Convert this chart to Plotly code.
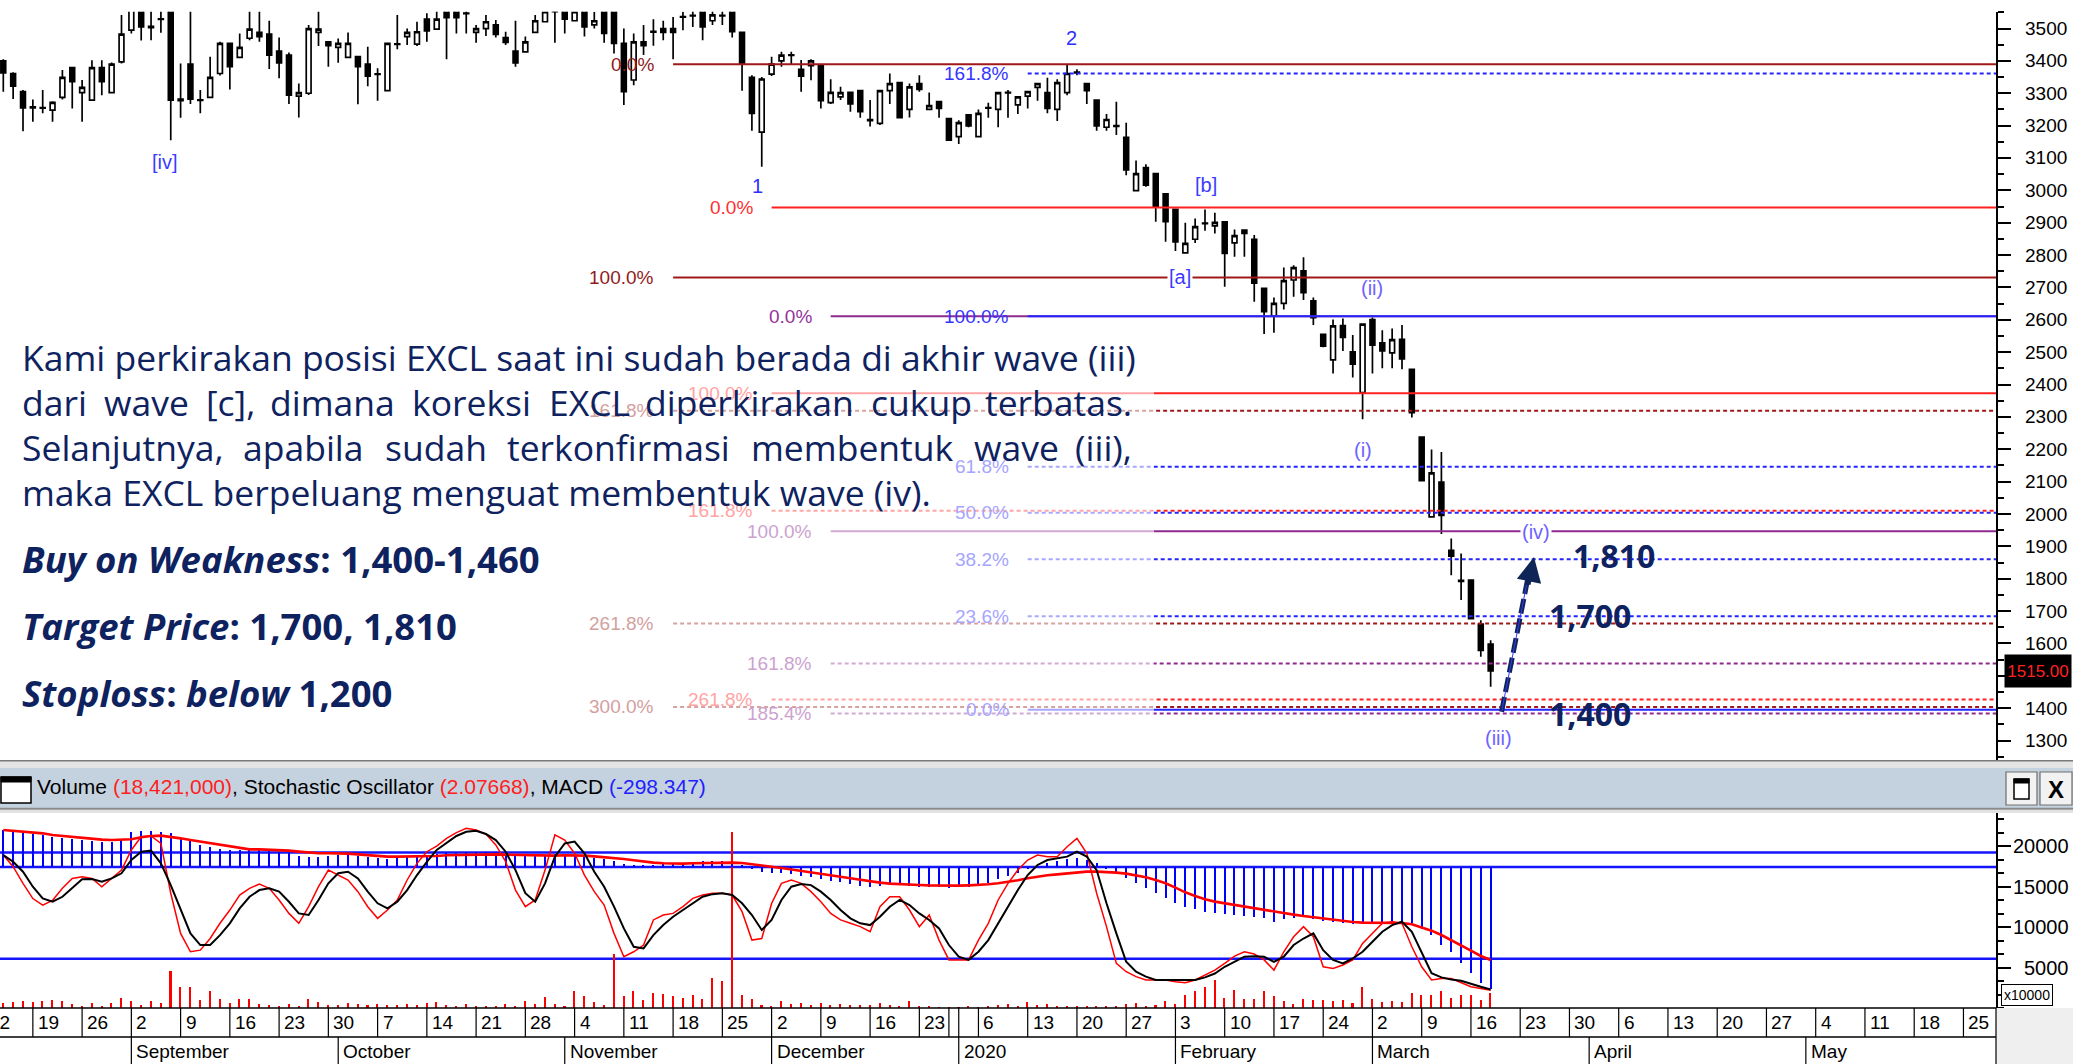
import pandas as pd
import plotly.graph_objects as go

W, H = 2073, 1064
NARROW = "Liberation Sans, Arial, sans-serif"
SANS = "Open Sans, Noto Sans, sans-serif"
NAVY = "#0e2260"

def P(v):
    return v / W

def Q(v):
    return 1 - v / H

# ---------------- data ----------------
first_day = "2019-08-14"
holidays = ["2019-12-24", "2019-12-25", "2019-12-31", "2020-01-01"]

opens = [3400, 3361, 3305, 3258, 3254, 3248, 3287, 3379, 3302, 3279,
         3379, 3302, 3397, 3495, 3580, 3503, 3530, 3600, 3282, 3390,
         3278, 3287, 3361, 3454, 3411, 3470, 3488, 3483, 3430, 3418,
         3291, 3300, 3488, 3459, 3442, 3411, 3413, 3390, 3360, 3308,
         3451, 3475, 3452, 3529, 3498, 3560, 3565, 3548, 3488, 3500,
         3511, 3472, 3430, 3428, 3488, 3521, 3570, 3570, 3524, 3560,
         3511, 3565, 3580, 3454, 3341, 3459, 3491, 3500, 3500, 3537,
         3541, 3565, 3524, 3541, 3570, 3488, 3349, 3180, 3359, 3400,
         3417, 3374, 3385, 3387, 3271, 3289, 3303, 3308, 3219, 3207,
         3308, 3333, 3250, 3330, 3250, 3274, 3222, 3166, 3233, 3166,
         3256, 3250, 3303, 3264, 3291, 3318, 3302, 3250, 3302, 3365,
         3330, 3279, 3195, 3200, 3164, 2999, 3070, 3052, 2989, 2941,
         2807, 2849, 2899, 2890, 2903, 2838, 2877, 2849, 2697, 2612,
         2651, 2723, 2751, 2659, 2555, 2476, 2582, 2501, 2375, 2601,
         2529, 2498, 2540, 2447, 2238, 1991, 2099, 1888, 1795, 1796,
         1660, 1598]
highs = [3405, 3365, 3310, 3281, 3310, 3275, 3372, 3382, 3341, 3402,
         3402, 3395, 3542, 3600, 3600, 3565, 3554, 3610, 3392, 3560,
         3310, 3413, 3459, 3456, 3485, 3556, 3556, 3524, 3472, 3426,
         3330, 3511, 3556, 3461, 3469, 3488, 3416, 3444, 3377, 3456,
         3542, 3500, 3521, 3547, 3556, 3580, 3580, 3556, 3511, 3542,
         3526, 3490, 3524, 3475, 3542, 3560, 3580, 3580, 3560, 3570,
         3552, 3575, 3590, 3500, 3485, 3511, 3529, 3524, 3536, 3552,
         3565, 3575, 3556, 3560, 3580, 3490, 3356, 3350, 3413, 3428,
         3428, 3403, 3405, 3390, 3343, 3320, 3305, 3310, 3279, 3310,
         3361, 3335, 3330, 3356, 3302, 3276, 3224, 3217, 3235, 3250,
         3271, 3304, 3310, 3291, 3307, 3332, 3348, 3343, 3387, 3374,
         3332, 3281, 3236, 3274, 3209, 3092, 3081, 3054, 2991, 2943,
         2900, 2913, 2941, 2931, 2905, 2879, 2877, 2862, 2699, 2669,
         2762, 2769, 2793, 2669, 2557, 2601, 2604, 2553, 2589, 2607,
         2568, 2573, 2584, 2449, 2240, 2199, 2192, 1924, 1878, 1798,
         1672, 1610]
lows = [3305, 3282, 3183, 3212, 3238, 3212, 3281, 3253, 3212, 3277,
        3294, 3300, 3392, 3485, 3463, 3464, 3487, 3155, 3224, 3267,
        3238, 3285, 3355, 3312, 3409, 3464, 3459, 3375, 3346, 3267,
        3225, 3295, 3446, 3382, 3394, 3409, 3266, 3322, 3277, 3306,
        3436, 3449, 3446, 3459, 3496, 3405, 3485, 3485, 3456, 3477,
        3472, 3449, 3382, 3426, 3486, 3519, 3456, 3485, 3522, 3475,
        3500, 3456, 3423, 3264, 3325, 3418, 3447, 3464, 3405, 3495,
        3505, 3464, 3511, 3511, 3472, 3308, 3184, 3073, 3353, 3382,
        3387, 3305, 3340, 3253, 3267, 3279, 3243, 3224, 3197, 3202,
        3267, 3223, 3225, 3305, 3248, 3224, 3153, 3143, 3195, 3164,
        3224, 3195, 3224, 3236, 3253, 3277, 3238, 3214, 3294, 3356,
        3267, 3184, 3184, 3171, 3047, 2997, 3011, 2903, 2841, 2813,
        2805, 2837, 2875, 2867, 2702, 2795, 2795, 2656, 2556, 2560,
        2632, 2671, 2661, 2584, 2515, 2434, 2504, 2422, 2293, 2434,
        2450, 2450, 2447, 2298, 2101, 1989, 1938, 1811, 1734, 1675,
        1559, 1466]
closes = [3363, 3322, 3255, 3255, 3256, 3272, 3349, 3336, 3318, 3379,
          3336, 3390, 3483, 3570, 3505, 3507, 3528, 3279, 3277, 3282,
          3280, 3349, 3454, 3382, 3442, 3498, 3475, 3418, 3394, 3294,
          3302, 3500, 3498, 3447, 3454, 3454, 3382, 3353, 3358, 3454,
          3453, 3488, 3490, 3493, 3529, 3534, 3534, 3546, 3500, 3521,
          3482, 3457, 3394, 3459, 3524, 3552, 3552, 3529, 3552, 3505,
          3524, 3485, 3454, 3305, 3459, 3447, 3489, 3488, 3488, 3535,
          3539, 3505, 3542, 3539, 3490, 3392, 3238, 3344, 3390, 3418,
          3419, 3353, 3400, 3277, 3303, 3302, 3267, 3243, 3215, 3308,
          3330, 3225, 3320, 3312, 3262, 3253, 3155, 3209, 3199, 3238,
          3254, 3302, 3301, 3289, 3305, 3330, 3253, 3333, 3361, 3363,
          3308, 3199, 3219, 3198, 3063, 3052, 3016, 2949, 2903, 2841,
          2836, 2888, 2897, 2901, 2805, 2860, 2867, 2713, 2625, 2651,
          2721, 2761, 2684, 2607, 2519, 2581, 2546, 2463, 2587, 2522,
          2504, 2539, 2479, 2313, 2103, 2127, 1996, 1870, 1792, 1677,
          1579, 1515]

volume_x10000 = [618, 742, 906, 741, 906, 1030, 906, 494, 206, 618,
                 206, 618, 1236, 906, 412, 824, 618, 4614, 2554, 2554,
                 1030, 2142, 1154, 618, 1154, 1154, 494, 412, 206, 494,
                 206, 1154, 742, 412, 412, 618, 494, 412, 494, 412,
                 412, 494, 412, 618, 742, 412, 206, 494, 206, 206,
                 206, 494, 206, 906, 494, 1318, 494, 206, 2142, 1442,
                 742, 330, 6674, 1442, 2142, 1030, 1854, 1730, 1442, 1236,
                 1648, 1154, 3708, 3296, 21700, 1648, 1154, 412, 206, 824,
                 494, 618, 412, 618, 412, 494, 412, 412, 412, 618,
                 412, 206, 824, 206, 206, 82, 82, 82, 206, 82,
                 206, 412, 494, 206, 742, 412, 494, 206, 206, 206,
                 206, 206, 206, 206, 494, 618, 206, 330, 906, 494,
                 1648, 2142, 2554, 3502, 1236, 2266, 1154, 1154, 2142, 1442,
                 824, 494, 1154, 1030, 1030, 906, 1030, 618, 2554, 1154,
                 742, 906, 742, 1854, 1648, 1566, 2142, 1236, 1648, 1648,
                 1030, 1842.1]
stoch_k = [78.6, 72.0, 62.6, 54.0, 50.3, 53.0, 59.8, 65.4, 66.3, 65.4,
           60.7, 65.4, 70.1, 81.5, 89.0, 89.4, 85.2, 57.0, 34.3, 23.9,
           24.8, 31.4, 40.0, 47.5, 56.0, 59.8, 62.2, 59.8, 53.2, 45.6,
           40.0, 49.4, 60.7, 70.1, 67.3, 64.5, 57.9, 49.4, 42.8, 47.5,
           53.2, 64.5, 73.9, 80.5, 83.7, 88.0, 91.3, 93.7, 92.8, 90.5,
           84.3, 74.9, 58.8, 49.4, 53.2, 70.1, 90.0, 87.1, 79.6, 67.3,
           57.9, 50.3, 34.3, 21.1, 23.9, 27.7, 41.9, 44.7, 45.6, 49.4,
           54.1, 56.0, 57.0, 57.0, 56.0, 46.6, 30.5, 31.4, 51.2, 62.6,
           64.5, 62.6, 57.9, 52.2, 45.6, 41.9, 40.0, 38.1, 35.2, 49.4,
           55.0, 55.0, 47.5, 38.1, 44.7, 30.5, 19.3, 19.3, 19.3, 30.5,
           40.0, 53.2, 62.6, 70.1, 75.8, 78.6, 77.7, 77.7, 83.3, 88.0,
           79.6, 57.0, 38.1, 17.3, 12.6, 9.8, 7.9, 7.9, 7.9, 6.9,
           6.4, 7.9, 10.7, 13.5, 17.3, 21.4, 23.9, 22.6, 19.3, 13.5,
           23.9, 32.4, 38.1, 32.4, 15.4, 14.5, 16.4, 19.3, 28.6, 34.3,
           40.0, 40.9, 40.0, 26.7, 15.4, 7.9, 8.8, 8.8, 6.4, 4.1,
           3.1, 2.07668]
stoch_d = [78.6, 74.8, 69.2, 60.7, 54.1, 52.2, 55.0, 59.8, 64.9, 65.0,
           63.5, 65.4, 68.3, 75.8, 80.5, 81.1, 73.9, 61.6, 47.5, 34.3,
           27.7, 27.7, 33.3, 40.0, 48.4, 55.0, 58.8, 59.8, 57.9, 52.2,
           45.6, 44.7, 53.2, 62.6, 68.3, 69.2, 65.4, 57.9, 51.3, 48.4,
           52.2, 58.8, 67.3, 74.8, 81.5, 85.6, 89.4, 91.8, 92.4, 90.5,
           87.1, 80.5, 70.1, 57.0, 52.2, 62.6, 77.7, 85.2, 86.2, 79.6,
           69.2, 60.7, 49.4, 37.1, 26.7, 25.8, 33.3, 39.0, 43.7, 47.5,
           51.3, 55.0, 56.5, 57.0, 56.0, 51.3, 44.7, 36.2, 41.9, 53.2,
           60.7, 62.2, 61.6, 57.9, 53.2, 47.5, 42.8, 40.0, 39.0, 43.7,
           49.4, 53.2, 50.3, 45.6, 41.9, 37.1, 27.7, 21.1, 19.3, 23.9,
           30.5, 40.0, 49.4, 58.8, 67.3, 73.0, 75.8, 76.7, 77.7, 80.5,
           77.7, 70.1, 51.3, 34.3, 18.2, 12.6, 9.8, 7.9, 7.9, 7.9,
           7.9, 7.9, 9.4, 11.6, 15.4, 18.2, 21.1, 21.4, 21.1, 18.2,
           21.1, 27.7, 31.4, 34.3, 24.8, 19.3, 17.3, 20.1, 23.9, 29.6,
           35.2, 39.0, 40.9, 35.2, 23.1, 11.8, 9.4, 8.2, 7.5, 5.6,
           4.1, 2.6]
macd = [90.3, 86.2, 83.8, 80.5, 78.1, 74.0, 69.9, 67.5, 65.9, 63.4,
        61.8, 61.8, 65.9, 86.2, 87.8, 87.8, 86.2, 82.1, 69.9, 65.9,
        53.7, 48.0, 43.1, 41.5, 41.5, 41.5, 41.5, 39.9, 37.4, 33.4,
        26.9, 25.2, 25.2, 26.9, 29.3, 29.3, 26.9, 23.6, 21.2, 19.5,
        21.2, 23.6, 26.9, 29.3, 30.9, 33.4, 35.0, 36.6, 37.4, 37.4,
        36.6, 35.0, 30.9, 26.9, 26.9, 29.3, 31.7, 31.7, 29.3, 25.2,
        21.2, 18.7, 14.7, 7.3, 2.5, 2.5, 4.1, 7.3, 8.9, 10.6,
        13.0, 14.7, 15.5, 15.5, 13.0, 4.9, -5.7, -11.4, -13.8, -15.4,
        -17.9, -21.1, -25.2, -29.2, -33.3, -37.4, -41.4, -45.5, -47.9, -46.3,
        -44.7, -44.7, -46.3, -47.9, -47.9, -49.6, -50.4, -49.6, -47.9, -43.9,
        -38.2, -30.1, -21.9, -13.8, -5.7, 2.5, 10.6, 15.5, 18.7, 21.2,
        17.0, 9.0, -3.0, -15.0, -28.0, -40.0, -52.0, -64.0, -76.0, -89.0,
        -97.0, -103.0, -109.0, -111.0, -115.0, -117.0, -120.0, -121.0, -125.0, -133.0,
        -128.0, -124.0, -123.0, -128.0, -131.0, -135.0, -137.0, -139.0, -139.0, -137.0,
        -136.0, -133.0, -133.0, -137.0, -150.0, -166.0, -190.0, -207.0, -235.0, -259.0,
        -282.0, -298.347]
macd_signal = [90.3, 88.6, 87.0, 85.4, 82.1, 78.1, 75.6, 72.4, 69.9, 68.3,
               66.7, 65.9, 65.9, 67.5, 72.4, 75.6, 76.4, 74.0, 69.9, 65.9,
               61.8, 57.8, 53.7, 49.6, 45.6, 43.1, 43.1, 42.3, 41.5, 39.9,
               37.4, 35.0, 33.4, 33.4, 33.4, 32.5, 30.9, 28.5, 26.9, 25.2,
               25.2, 25.2, 25.2, 26.0, 26.9, 28.5, 29.3, 30.1, 30.9, 30.9,
               30.9, 30.1, 29.3, 28.5, 27.7, 27.7, 27.7, 28.5, 28.5, 27.7,
               26.0, 24.4, 22.8, 19.5, 16.3, 13.0, 10.6, 9.0, 8.2, 8.2,
               9.0, 9.8, 10.6, 10.6, 10.6, 9.8, 7.3, 4.1, 0.8, -2.4,
               -5.7, -8.9, -12.2, -15.4, -19.5, -23.6, -27.6, -31.7, -35.7, -38.2,
               -40.6, -42.2, -43.1, -43.9, -44.7, -45.5, -45.5, -45.5, -44.7, -43.9,
               -42.2, -39.8, -36.6, -32.5, -27.6, -23.6, -20.3, -17.9, -15.4, -13.0,
               -11.4, -11.4, -12.2, -13.8, -16.2, -20.3, -25.2, -31.7, -39.8, -50.4,
               -61.8, -70.7, -78.8, -84.5, -88.6, -91.8, -95.1, -99.2, -104.0, -108.9,
               -113.0, -116.2, -119.5, -122.7, -126.0, -129.2, -132.5, -134.1, -135.7, -135.7,
               -135.7, -135.7, -136.6, -139.8, -147.1, -155.3, -165.8, -178.0, -191.0, -204.0,
               -217.0, -226.8]

price_ticks = [1300, 1400, 1500, 1600, 1700, 1800, 1900, 2000, 2100, 2200, 2300,
               2400, 2500, 2600, 2700, 2800, 2900, 3000, 3100, 3200, 3300, 3400, 3500]
vol_ticks = [5000, 10000, 15000, 20000]
stoch_levels = [80, 20]
month_names = {1: "2020", 2: "February", 3: "March", 4: "April", 5: "May", 6: "June",
               8: "August", 9: "September", 10: "October", 11: "November", 12: "December"}

# Fibonacci tools
fib_start = {"darkred": "2019-11-18", "red": "2019-12-02", "purple": "2019-12-10", "blue": "2020-01-13"}
fib_set = ["darkred", "darkred", "darkred", "darkred", "darkred",
           "red", "red", "red", "red",
           "purple", "purple", "purple", "purple",
           "blue", "blue", "blue", "blue", "blue", "blue", "blue"]
fib_price = [3390, 2731, 2319, 1662, 1404,
             2947, 2373, 2010, 1427,
             2611, 1947, 1538, 1384,
             3361, 2611, 2146, 2004, 1860, 1684, 1395]
fib_label = ["0.0%", "100.0%", "161.8%", "261.8%", "300.0%",
             "0.0%", "100.0%", "161.8%", "261.8%",
             "0.0%", "100.0%", "161.8%", "185.4%",
             "161.8%", "100.0%", "61.8%", "50.0%", "38.2%", "23.6%", "0.0%"]
fib_solid = [True, True, False, False, False,
             True, True, False, False,
             True, True, False, False,
             False, True, False, False, False, False, True]
FIB_COLOR = {"darkred": "#a11818", "red": "#ff2020", "purple": "#8e2a8e", "blue": "#2424ff"}
FIB_TEXT = {"darkred": "#8f1c1c", "red": "#ff3030", "purple": "#93329a", "blue": "#3434ff"}
FIB_FADED = {"darkred": "#d3a0a0", "red": "#ffa3a3", "purple": "#cca2cf", "blue": "#a5a5ff"}

# commentary text
para_line1 = "Kami perkirakan posisi EXCL saat ini sudah berada di akhir wave (iii)"
para_line2 = "dari wave [c], dimana koreksi EXCL diperkirakan cukup terbatas."
para_line3 = "Selanjutnya, apabila sudah terkonfirmasi membentuk wave (iii),"
para_line4 = "maka EXCL berpeluang menguat membentuk wave (iv)."

# approximate Open Sans advance widths (units per 2048 em) used to justify lines
OS_W = {' ': 532, ',': 502, '.': 545, '(': 592, ')': 592, '[': 618, ']': 618,
        'a': 1139, 'b': 1255, 'c': 975, 'd': 1255, 'e': 1149, 'f': 694, 'g': 1122,
        'h': 1257, 'i': 518, 'j': 518, 'k': 1075, 'l': 518, 'm': 1905, 'n': 1257,
        'o': 1237, 'p': 1255, 'r': 836, 's': 977, 't': 723, 'u': 1257, 'v': 1026,
        'w': 1593, 'y': 1028, 'E': 1108, 'X': 1149, 'C': 1290, 'L': 1012, 'S': 1114, 'K': 1206}

# ---------------- calendar / geometry ----------------
days = pd.bdate_range("2019-08-12", "2020-06-12")
days = days[~days.isin(pd.to_datetime(holidays))]
pos = {d: i for i, d in enumerate(days)}
i0 = pos[pd.Timestamp(first_day)]
xc = list(range(i0, i0 + len(opens)))
PXD = 9.85                   # pixels per trading day
PLOT_R = 1996                # right edge of plotting area (px)
x_left = i0 - 3.3 / PXD
x_right = x_left + PLOT_R / PXD

def xpix(p):
    return (p - x_left) * PXD

PTOP, PBOT = 11.7, 760       # price panel (px)
IRANGE_TOP, IRANGE_BOT = 813, 1008
PRICE_RANGE = [1240, 3552]

def price_px(v):
    return PTOP + (PRICE_RANGE[1] - v) / (PRICE_RANGE[1] - PRICE_RANGE[0]) * (PBOT - PTOP)

fig = go.Figure()

fig.add_trace(go.Candlestick(
    x=xc, open=opens, high=highs, low=lows, close=closes,
    increasing=dict(line=dict(color="black", width=1.7), fillcolor="white"),
    decreasing=dict(line=dict(color="black", width=1.7), fillcolor="black"),
    whiskerwidth=0, showlegend=False, hoverinfo="skip", xaxis="x", yaxis="y"))

fig.add_trace(go.Bar(x=xc, y=volume_x10000, width=0.16, offset=-0.08,
                     marker=dict(color="#ff0000", line=dict(width=0)),
                     showlegend=False, hoverinfo="skip", xaxis="x", yaxis="y2"))
fig.add_trace(go.Bar(x=xc, y=macd, base=0, width=0.12, offset=-0.06,
                     marker=dict(color="#0000ff", line=dict(width=0)),
                     showlegend=False, hoverinfo="skip", xaxis="x", yaxis="y3"))
fig.add_trace(go.Scatter(x=xc, y=macd_signal, mode="lines",
                         line=dict(color="#ff0000", width=2.6),
                         showlegend=False, hoverinfo="skip", xaxis="x", yaxis="y3"))
fig.add_trace(go.Scatter(x=xc, y=stoch_k, mode="lines",
                         line=dict(color="#ff0000", width=1.5),
                         showlegend=False, hoverinfo="skip", xaxis="x", yaxis="y4"))
fig.add_trace(go.Scatter(x=xc, y=stoch_d, mode="lines",
                         line=dict(color="#000000", width=2),
                         showlegend=False, hoverinfo="skip", xaxis="x", yaxis="y4"))

shapes = []
ann = []

def rect(x0, y0, x1, y1, fill, line=None, lw=0, layer="above", opacity=1):
    shapes.append(dict(type="rect", xref="paper", yref="paper",
                       x0=P(x0), x1=P(x1), y0=Q(y0), y1=Q(y1),
                       fillcolor=fill, opacity=opacity, layer=layer,
                       line=dict(color=line or fill, width=lw)))

def seg(x0, y0, x1, y1, color, width, dash=None, layer="above"):
    d = dict(type="line", xref="paper", yref="paper", x0=P(x0), x1=P(x1),
             y0=Q(y0), y1=Q(y1), layer=layer, line=dict(color=color, width=width))
    if dash:
        d["line"]["dash"] = dash
    shapes.append(d)

def text(x, y, s, font, xanchor="left", **kw):
    d = dict(xref="paper", yref="paper", x=P(x), y=Q(y), xanchor=xanchor, yanchor="middle",
             showarrow=False, text=s, font=font)
    d.update(kw)
    ann.append(d)

# indicator reference lines
for lv in stoch_levels:
    shapes.append(dict(type="line", xref="paper", yref="y4", x0=0, x1=P(PLOT_R),
                       y0=lv, y1=lv, layer="below", line=dict(color="#1414ff", width=2.5)))
shapes.append(dict(type="line", xref="paper", yref="y3", x0=0, x1=P(PLOT_R),
                   y0=0, y1=0, layer="below", line=dict(color="#1414ff", width=2.5)))

# Fibonacci lines
for s, pr, sol in zip(fib_set, fib_price, fib_solid):
    x0 = pos[pd.Timestamp(fib_start[s])]
    ln = dict(color=FIB_COLOR[s], width=2)
    if not sol:
        ln["dash"] = "4px,3px"
    shapes.append(dict(type="line", xref="x", yref="y", x0=x0, x1=x_right,
                       y0=pr, y1=pr, layer="above", line=ln))

# translucent panel behind the commentary
rect(0, 332, 1154, 759, "white", opacity=0.6)

# dashed arrow (iii) -> (iv)
seg(1501.6, 711.7, 1527.5, 580, "#0f2557", 5, dash="15px,5px")
seg(1501.6, 711.7, 1526.5, 585, "#3a3aff", 1)

# panel chrome
rect(0, 760, W, 768, "#e4e4e4")
seg(0, 760.7, W, 760.7, "#7a7a7a", 1.5)
rect(0, 768, W, 808, "#c4d2df")
seg(0, 808.8, W, 808.8, "#8a8a8a", 2)
rect(0, 810, W, 813, "#e2e2e2")
rect(1, 777, 31, 803, "white", "black", 1.5)
rect(1, 777, 31, 782, "black", "black", 1)
rect(2006, 772, 2037, 805, "#f2f2f2", "#6e6e6e", 1.2)
rect(2014, 779, 2029, 799, "white", "black", 1.5)
rect(2014, 779, 2029, 783, "black", "black", 1)
rect(2040, 772, 2072, 805, "#f2f2f2", "#6e6e6e", 1.2)

# date axis frame
rect(PLOT_R, 1008, W, H, "#efefef")
seg(0, 1008, PLOT_R, 1008, "black", 1.5)
seg(0, 1037, PLOT_R, 1037, "black", 1.5)
seg(PLOT_R, 1008, PLOT_R, H, "black", 1.2)

DF = dict(family=NARROW, size=19, color="black")
month_starts = []
year_starts = []
for k in range(1, len(days)):
    if days[k].month != days[k - 1].month:
        month_starts.append(k)
        if days[k].year != days[k - 1].year:
            year_starts.append(k)
for k in month_starts:
    xp = xpix(k)
    if 0 <= xp <= PLOT_R:
        top = 1008 if k in year_starts else 1037
        seg(xp, top, xp, H, "black", 1.2)
        text(xp + 3, 1051, month_names[days[k].month], DF)
for k, d in enumerate(days):
    if d.weekday() != 0:
        continue
    xp = xpix(k)
    if xp > PLOT_R - 20:
        continue
    if 0 <= xp:
        seg(xp, 1008, xp, 1037, "black", 1.2)
    if any(0 < m - k <= 2 for m in year_starts):
        continue
    text(xp + 3, 1022.5, str(d.day), DF)

# axis tick labels (right aligned)
for t in price_ticks:
    ann.append(dict(xref="paper", yref="y", x=P(2069), y=t, xanchor="right", yanchor="middle",
                    showarrow=False, text=str(t), font=dict(family=NARROW, size=19, color="black")))
for t in vol_ticks:
    ann.append(dict(xref="paper", yref="y2", x=P(2071), y=t, xanchor="right", yanchor="middle",
                    showarrow=False, text=str(t), font=dict(family=NARROW, size=20, color="black")))
text(2001, 995, "x10000", dict(family=NARROW, size=14, color="black"),
     bgcolor="white", bordercolor="black", borderwidth=1, borderpad=2)
ann.append(dict(xref="paper", yref="y", x=P(2038), y=closes[-1], xanchor="center", yanchor="middle",
                showarrow=False, text=f"{closes[-1]:.2f}", bgcolor="black", width=64, height=30,
                font=dict(family=NARROW, size=17, color="#ff2020")))

# header text
vol_txt = f"{volume_x10000[-1] * 10000:,.0f}"
text(35, 786, (f"Volume <span style='color:#ff2020'>({vol_txt})</span>, Stochastic Oscillator "
               f"<span style='color:#ff2020'>({stoch_k[-1]:.5f})</span>, MACD "
               f"<span style='color:#2020ff'>({macd[-1]:.3f})</span>"),
     dict(family=NARROW, size=21, color="black"))
text(2056, 789, "<b>X</b>", dict(family=NARROW, size=24, color="black"), xanchor="center")

# Fibonacci labels
for s, pr, lab in zip(fib_set, fib_price, fib_label):
    x0 = pos[pd.Timestamp(fib_start[s])]
    faded = price_px(pr) > 332
    ann.append(dict(xref="x", yref="y", x=x0, y=pr, xanchor="right", yanchor="middle", xshift=-17,
                    showarrow=False, text=lab,
                    font=dict(family=NARROW, size=19, color=FIB_FADED[s] if faded else FIB_TEXT[s])))

# wave labels
WF = 20
waves = [("[iv]", 165, 162, "#3c3cff", False), ("1", 757, 186, "#2e2eff", False),
         ("2", 1071, 38, "#2e2eff", False), ("[b]", 1206, 185, "#3c3cff", False),
         ("[a]", 1180, 277, "#3c3cff", True), ("(ii)", 1372, 288, "#6e62ff", False),
         ("(i)", 1363, 450, "#6e62ff", False), ("(iv)", 1536, 532, "#6e62ff", True),
         ("(iii)", 1498, 738, "#6e62ff", False)]
for txt, xx, yy, col, bg in waves:
    kw = {"bgcolor": "white"} if bg else {}
    text(xx, yy, txt, dict(family=NARROW, size=WF, color=col), xanchor="center", **kw)

# target labels
for txt, xx, yy in [("1,810", 1571, 555), ("1,700", 1547, 615), ("1,400", 1547, 713)]:
    text(xx, yy, f"<b>{txt}</b>", dict(family=SANS, size=32, color=NAVY))

# arrow head
ann.append(dict(xref="paper", yref="paper", x=P(1534), y=Q(557), ax=-6, ay=29, text="",
                showarrow=True, arrowhead=2, arrowsize=1.1, arrowwidth=4.5, arrowcolor="#0f2557"))

# commentary (justified paragraph)
FS = 35.5
TF = dict(family=SANS, size=FS, color=NAVY)
LEFT, RIGHT = 19.6, 1134

def word_w(w):
    return sum(OS_W.get(ch, 1100) for ch in w) / 2048 * FS

text(LEFT, 357, para_line1, TF)
for line, yy in [(para_line2, 402), (para_line3, 447)]:
    words = line.split(" ")
    widths = [word_w(w) for w in words]
    gap = (RIGHT - LEFT - sum(widths)) / (len(words) - 1)
    xx = LEFT
    for j, (w, ww) in enumerate(zip(words, widths)):
        if j == len(words) - 1:
            text(RIGHT, yy, w, TF, xanchor="right")
        else:
            text(xx, yy, w, TF)
        xx += ww + gap
text(LEFT, 492, para_line4, TF)

BF = dict(family=SANS, size=36.5, color=NAVY)
for txt, yy in [("<b><i>Buy on Weakness</i>: 1,400-1,460</b>", 559),
                ("<b><i>Target Price</i>: 1,700, 1,810</b>", 626),
                ("<b><i>Stoploss</i>: <i>below</i> 1,200</b>", 693)]:
    text(LEFT, yy, txt, BF)

AX = dict(showgrid=False, zeroline=False)
fig.update_layout(
    width=W, height=H, margin=dict(l=0, r=0, t=0, b=0),
    paper_bgcolor="white", plot_bgcolor="white", showlegend=False, bargap=0,
    xaxis=dict(domain=[0, P(PLOT_R)], range=[x_left, x_right], showticklabels=False, ticks="",
               showline=False, rangeslider=dict(visible=False), anchor="y2", **AX),
    yaxis=dict(domain=[Q(PBOT), Q(PTOP)], range=PRICE_RANGE, side="right", anchor="x",
               showline=True, linecolor="black", linewidth=1.5, ticks="outside", ticklen=13,
               tickwidth=1.5, tickcolor="black", tickmode="array", tickvals=price_ticks,
               showticklabels=False,
               minor=dict(tickmode="linear", tick0=0, dtick=50, ticks="outside", ticklen=6,
                          tickwidth=1.5, tickcolor="black", showgrid=False), **AX),
    yaxis2=dict(domain=[Q(IRANGE_BOT), Q(IRANGE_TOP)], range=[0, 24074], side="right", anchor="x",
                showline=True, linecolor="black", linewidth=1.5, ticks="outside", ticklen=13,
                tickwidth=1.5, tickcolor="black", tickmode="array", tickvals=vol_ticks,
                showticklabels=False,
                minor=dict(tickmode="linear", tick0=0, dtick=5000 / 3, ticks="outside", ticklen=6,
                           tickwidth=1.5, tickcolor="black", showgrid=False), **AX),
    yaxis3=dict(overlaying="y2", range=[-343.9, 131.7], visible=False, **AX),
    yaxis4=dict(overlaying="y2", range=[-7.92, 102.4], visible=False, **AX),
    shapes=shapes, annotations=ann,
)

fig.write_html("out.html", config={"displayModeBar": False},
               post_script="document.body.style.margin='0px';document.body.style.overflow='hidden';")
